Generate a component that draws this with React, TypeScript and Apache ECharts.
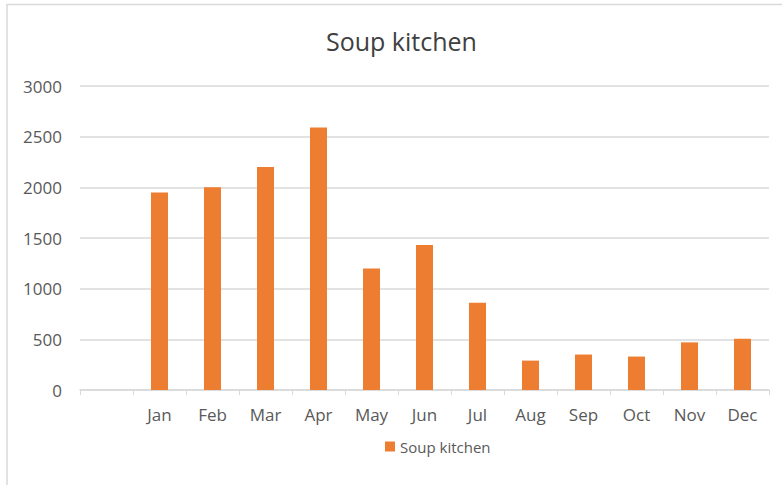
import React, { useEffect, useRef } from "react";
import * as echarts from "echarts";

const categories = ["", "Jan", "Feb", "Mar", "Apr", "May", "Jun", "Jul", "Aug", "Sep", "Oct", "Nov", "Dec"];
const soupKitchen = [null, 1950, 2000, 2200, 2590, 1200, 1430, 860, 290, 350, 330, 470, 505];
const seriesName = "Soup kitchen";
const titleText = "Soup kitchen";

const FONT = "'Open Sans', 'Noto Sans', sans-serif";

export default function App() {
  const ref = useRef<HTMLDivElement>(null);
  useEffect(() => {
    if (!ref.current) return;
    const chart = echarts.init(ref.current, null, { renderer: "svg" });
    chart.setOption({
      animation: false,
      backgroundColor: "#ffffff",
      textStyle: { fontFamily: FONT },
      title: {
        text: titleText,
        left: 321,
        top: 23,
        textStyle: { fontFamily: FONT, fontSize: 25, fontWeight: "normal", color: "#404040" },
      },
      legend: {
        data: [seriesName],
        left: 380,
        top: 434,
        icon: "rect",
        itemWidth: 10,
        itemHeight: 10,
        itemGap: 4,
        textStyle: { fontFamily: FONT, fontSize: 15, color: "#595959" },
      },
      grid: { left: 80, right: 13, top: 86, bottom: 95, containLabel: false },
      xAxis: {
        type: "category",
        data: categories,
        boundaryGap: true,
        axisLine: { lineStyle: { color: "#d9d9d9", width: 1.5 } },
        axisTick: { show: true, length: 5, alignWithLabel: false, lineStyle: { color: "#d9d9d9" } },
        axisLabel: { fontFamily: FONT, fontSize: 17, color: "#595959", margin: 16, interval: 0 },
      },
      yAxis: {
        type: "value",
        min: 0,
        max: 3000,
        interval: 500,
        axisLine: { show: false },
        axisTick: { show: false },
        axisLabel: {
          fontFamily: FONT,
          fontSize: 17,
          color: "#595959",
          margin: 18,
          formatter: (v: number) => String(v),
        },
        splitLine: { lineStyle: { color: "#d9d9d9", width: 1.5 } },
      },
      graphic: [
        {
          type: "rect",
          shape: { x: 7, y: 4.5, width: 800, height: 500 },
          style: { fill: "none", stroke: "#d9d9d9", lineWidth: 1.5 },
          silent: true,
          z: -1,
        },
      ],
      series: [
        {
          name: seriesName,
          type: "bar",
          data: soupKitchen,
          barWidth: 17,
          itemStyle: { color: "#ED7D31" },
        },
      ],
    });
    return () => chart.dispose();
  }, []);
  return <div ref={ref} style={{ position: "fixed", left: 0, top: 0, width: 782, height: 485 }} />;
}
